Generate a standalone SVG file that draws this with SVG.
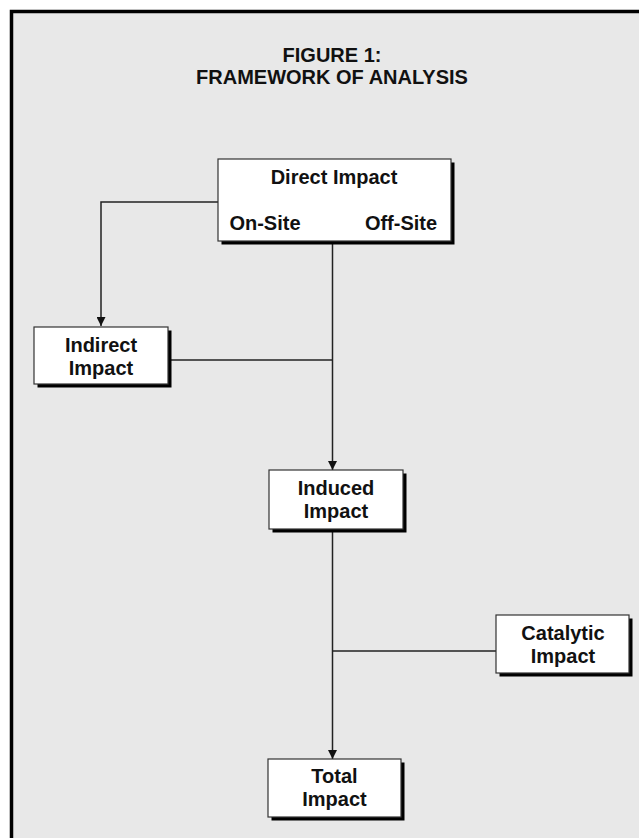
<svg xmlns="http://www.w3.org/2000/svg" width="639" height="838" viewBox="0 0 639 838">
  <defs>
    <style>
      .t { font-family: "Liberation Sans", Arial, sans-serif; font-weight: bold; font-size: 20px; fill: #111; text-anchor: middle; }
      .box { fill: #ffffff; stroke: #333; stroke-width: 1.2; }
      .shadow { fill: #000; }
      .ln { fill: none; stroke: #222; stroke-width: 1.5; }
    </style>
    <marker id="arr" viewBox="0 0 10 10" refX="10" refY="5" markerWidth="10" markerHeight="9" markerUnits="userSpaceOnUse" orient="auto">
      <path d="M0,0 L10,5 L0,10 Z" fill="#111"/>
    </marker>
  </defs>

  <rect x="0" y="0" width="639" height="838" fill="#ffffff"/>
  <rect x="11.5" y="11.5" width="640" height="840" fill="#e8e8e8" stroke="#000" stroke-width="3.5"/>

  <g id="title">
    <text class="t" x="332" y="62">FIGURE 1:</text>
    <text class="t" x="332" y="84">FRAMEWORK OF ANALYSIS</text>
  </g>

  <g id="connectors">
    <polyline class="ln" points="218,202 101,202 101,326" marker-end="url(#arr)"/>
    <line class="ln" x1="332.5" y1="241" x2="332.5" y2="470" marker-end="url(#arr)"/>
    <line class="ln" x1="168" y1="360" x2="332.5" y2="360"/>
    <line class="ln" x1="332.5" y1="529" x2="332.5" y2="759" marker-end="url(#arr)"/>
    <line class="ln" x1="332.5" y1="651" x2="496" y2="651"/>
  </g>

  <g id="direct">
    <rect class="shadow" x="221.5" y="162.5" width="233" height="82"/>
    <rect class="box" x="218" y="159" width="233" height="82"/>
    <text class="t" x="334" y="184">Direct Impact</text>
    <text class="t" x="265" y="230">On-Site</text>
    <text class="t" x="401" y="230">Off-Site</text>
  </g>

  <g id="indirect">
    <rect class="shadow" x="37.5" y="330.5" width="134" height="57"/>
    <rect class="box" x="34" y="327" width="134" height="57"/>
    <text class="t" x="101" y="352">Indirect</text>
    <text class="t" x="101" y="375">Impact</text>
  </g>

  <g id="induced">
    <rect class="shadow" x="272.5" y="473.5" width="134" height="59"/>
    <rect class="box" x="269" y="470" width="134" height="59"/>
    <text class="t" x="336" y="495">Induced</text>
    <text class="t" x="336" y="518">Impact</text>
  </g>

  <g id="catalytic">
    <rect class="shadow" x="499.5" y="618.5" width="133" height="58"/>
    <rect class="box" x="496" y="615" width="133" height="58"/>
    <text class="t" x="563" y="640">Catalytic</text>
    <text class="t" x="563" y="663">Impact</text>
  </g>

  <g id="total">
    <rect class="shadow" x="271.5" y="762.5" width="133" height="58"/>
    <rect class="box" x="268" y="759" width="133" height="58"/>
    <text class="t" x="334.5" y="783">Total</text>
    <text class="t" x="334.5" y="806">Impact</text>
  </g>
</svg>
